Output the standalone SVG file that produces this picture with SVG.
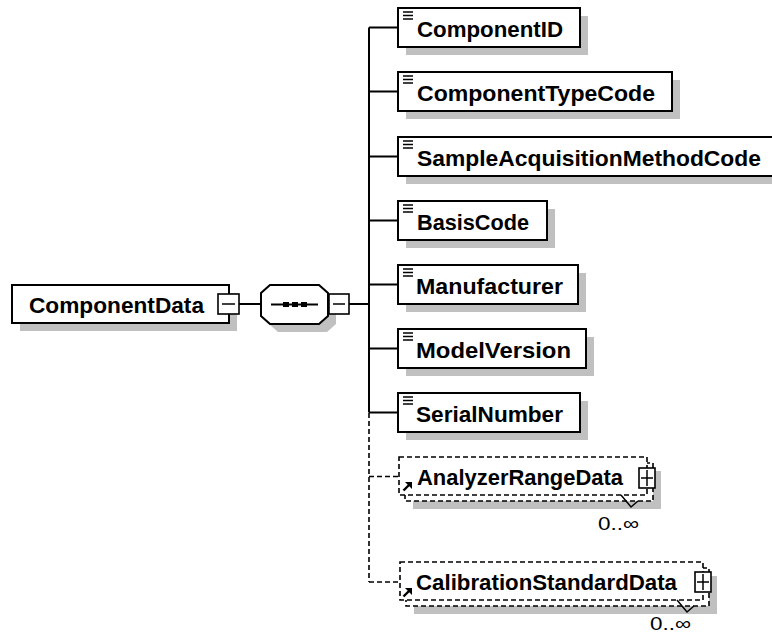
<svg xmlns="http://www.w3.org/2000/svg" width="772" height="634" viewBox="0 0 772 634">
<style>
.bg{fill:#fff}
.shadow{fill:#c0c0c0;stroke:none}
.box{fill:#fff;stroke:#000;stroke-width:2}
.dbox{fill:#fff;stroke:#000;stroke-width:1.6;stroke-dasharray:5,3}
.ln{fill:none;stroke:#000;stroke-width:2}
.dl{fill:none;stroke:#000;stroke-width:1.6;stroke-dasharray:5,3}
.ic{fill:none;stroke:#000;stroke-width:1.5}
.lbl{font-family:"Liberation Sans",Arial,sans-serif;font-weight:bold;font-size:22px;fill:#000}
.occ{font-family:"Liberation Sans",Arial,sans-serif;font-size:19px;fill:#000}
.btn{fill:#fff;stroke:#000;stroke-width:1.6}
</style>
<defs>
<g id="simpleIcon">
<line class="ic" x1="403" y1="0" x2="413" y2="0"/>
<line class="ic" x1="403" y1="3.5" x2="413" y2="3.5"/>
<line class="ic" x1="403" y1="7" x2="413" y2="7"/>
</g>
<g id="refArrow">
<line x1="0.5" y1="8.5" x2="6" y2="3" stroke="#000" stroke-width="2.4"/>
<polygon points="9,0 9,7 2,0" fill="#000"/>
</g>
</defs>
<rect class="bg" x="0" y="0" width="772" height="634"/>

<g id="connectors">
<line class="ln" x1="239" y1="304" x2="261" y2="304"/>
<line class="ln" x1="349" y1="304" x2="369" y2="304"/>
<line class="ln" x1="369" y1="27.5" x2="369" y2="412.5"/>
<line class="ln" x1="369" y1="27.5" x2="398" y2="27.5"/>
<line class="ln" x1="369" y1="91.5" x2="398" y2="91.5"/>
<line class="ln" x1="369" y1="156.5" x2="398" y2="156.5"/>
<line class="ln" x1="369" y1="220.5" x2="398" y2="220.5"/>
<line class="ln" x1="369" y1="284.5" x2="398" y2="284.5"/>
<line class="ln" x1="369" y1="348.5" x2="398" y2="348.5"/>
<line class="ln" x1="369" y1="412.5" x2="398" y2="412.5"/>
<line class="dl" x1="369" y1="413" x2="369" y2="582"/>
<line class="dl" x1="369" y1="476.5" x2="399" y2="476.5"/>
<line class="dl" x1="369" y1="582" x2="400" y2="582"/>
</g>

<g id="ComponentData">
<rect class="shadow" x="20" y="293" width="217" height="38"/>
<rect class="box" x="12" y="285" width="217" height="38"/>
<text class="lbl" x="29" y="312.5" textLength="175" lengthAdjust="spacingAndGlyphs">ComponentData</text>
<rect class="btn" x="218" y="294" width="21" height="20"/>
<line class="ic" x1="222" y1="304" x2="235" y2="304"/>
</g>

<g id="sequence">
<polygon class="shadow" points="278,293 327,293 336,301 336,324 327,332 278,332 269,324 269,301"/>
<polygon class="box" points="270,285 319,285 328,293 328,316 319,324 270,324 261,316 261,293"/>
<line class="ln" x1="271" y1="304.5" x2="318" y2="304.5"/>
<rect x="283" y="302" width="6" height="5" fill="#000"/>
<rect x="292" y="302" width="6" height="5" fill="#000"/>
<rect x="301" y="302" width="6" height="5" fill="#000"/>
<rect class="btn" x="329" y="294" width="20" height="20"/>
<line class="ic" x1="333" y1="304" x2="345" y2="304"/>
</g>

<g id="ComponentID">
<rect class="shadow" x="406" y="16" width="182" height="39"/>
<rect class="box" x="398" y="8" width="182" height="39"/>
<use href="#simpleIcon" y="12"/>
<text class="lbl" x="417" y="36.5" textLength="146" lengthAdjust="spacingAndGlyphs">ComponentID</text>
</g>

<g id="ComponentTypeCode">
<rect class="shadow" x="406" y="80" width="274" height="39"/>
<rect class="box" x="398" y="72" width="274" height="39"/>
<use href="#simpleIcon" y="76"/>
<text class="lbl" x="417" y="100.5" textLength="238" lengthAdjust="spacingAndGlyphs">ComponentTypeCode</text>
</g>

<g id="SampleAcquisitionMethodCode">
<rect class="shadow" x="406" y="145" width="392" height="39"/>
<rect class="box" x="398" y="137" width="392" height="39"/>
<use href="#simpleIcon" y="141"/>
<text class="lbl" x="417" y="165.5" textLength="344" lengthAdjust="spacingAndGlyphs">SampleAcquisitionMethodCode</text>
</g>

<g id="BasisCode">
<rect class="shadow" x="406" y="209" width="149" height="39"/>
<rect class="box" x="398" y="201" width="149" height="39"/>
<use href="#simpleIcon" y="205"/>
<text class="lbl" x="417" y="229.5" textLength="112" lengthAdjust="spacingAndGlyphs">BasisCode</text>
</g>

<g id="Manufacturer">
<rect class="shadow" x="406" y="273" width="180" height="39"/>
<rect class="box" x="398" y="265" width="180" height="39"/>
<use href="#simpleIcon" y="269"/>
<text class="lbl" x="416" y="293.5" textLength="147" lengthAdjust="spacingAndGlyphs">Manufacturer</text>
</g>

<g id="ModelVersion">
<rect class="shadow" x="406" y="337" width="188" height="39"/>
<rect class="box" x="398" y="329" width="188" height="39"/>
<use href="#simpleIcon" y="333"/>
<text class="lbl" x="416" y="357.5" textLength="155" lengthAdjust="spacingAndGlyphs">ModelVersion</text>
</g>

<g id="SerialNumber">
<rect class="shadow" x="406" y="401" width="182" height="39"/>
<rect class="box" x="398" y="393" width="182" height="39"/>
<use href="#simpleIcon" y="397"/>
<text class="lbl" x="416" y="421.5" textLength="147" lengthAdjust="spacingAndGlyphs">SerialNumber</text>
</g>

<g id="AnalyzerRangeData">
<rect class="shadow" x="413" y="471" width="248" height="38"/>
<rect class="dbox" x="405" y="463" width="248" height="38"/>
<rect class="dbox" x="399" y="457" width="248" height="38"/>
<use href="#refArrow" x="403" y="482"/>
<text class="lbl" x="417" y="484.5" textLength="206" lengthAdjust="spacingAndGlyphs">AnalyzerRangeData</text>
<rect class="btn" x="639" y="468" width="16" height="20"/>
<line class="ic" x1="641" y1="478" x2="653" y2="478"/>
<line class="ic" x1="647" y1="470" x2="647" y2="486"/>
<polyline class="ic" points="621,495 631,507 638,501"/>
<text class="occ" x="598" y="530" textLength="41" lengthAdjust="spacingAndGlyphs">0..∞</text>
</g>

<g id="CalibrationStandardData">
<rect class="shadow" x="414" y="576" width="303" height="38"/>
<rect class="dbox" x="406" y="568" width="303" height="38"/>
<rect class="dbox" x="400" y="562" width="303" height="38"/>
<use href="#refArrow" x="403" y="588"/>
<text class="lbl" x="416" y="590" textLength="261" lengthAdjust="spacingAndGlyphs">CalibrationStandardData</text>
<rect class="btn" x="695" y="572" width="16" height="20"/>
<line class="ic" x1="697" y1="582" x2="709" y2="582"/>
<line class="ic" x1="703" y1="574" x2="703" y2="590"/>
<polyline class="ic" points="677,600 687,612 694,606"/>
<text class="occ" x="650" y="630" textLength="41" lengthAdjust="spacingAndGlyphs">0..∞</text>
</g>
</svg>
